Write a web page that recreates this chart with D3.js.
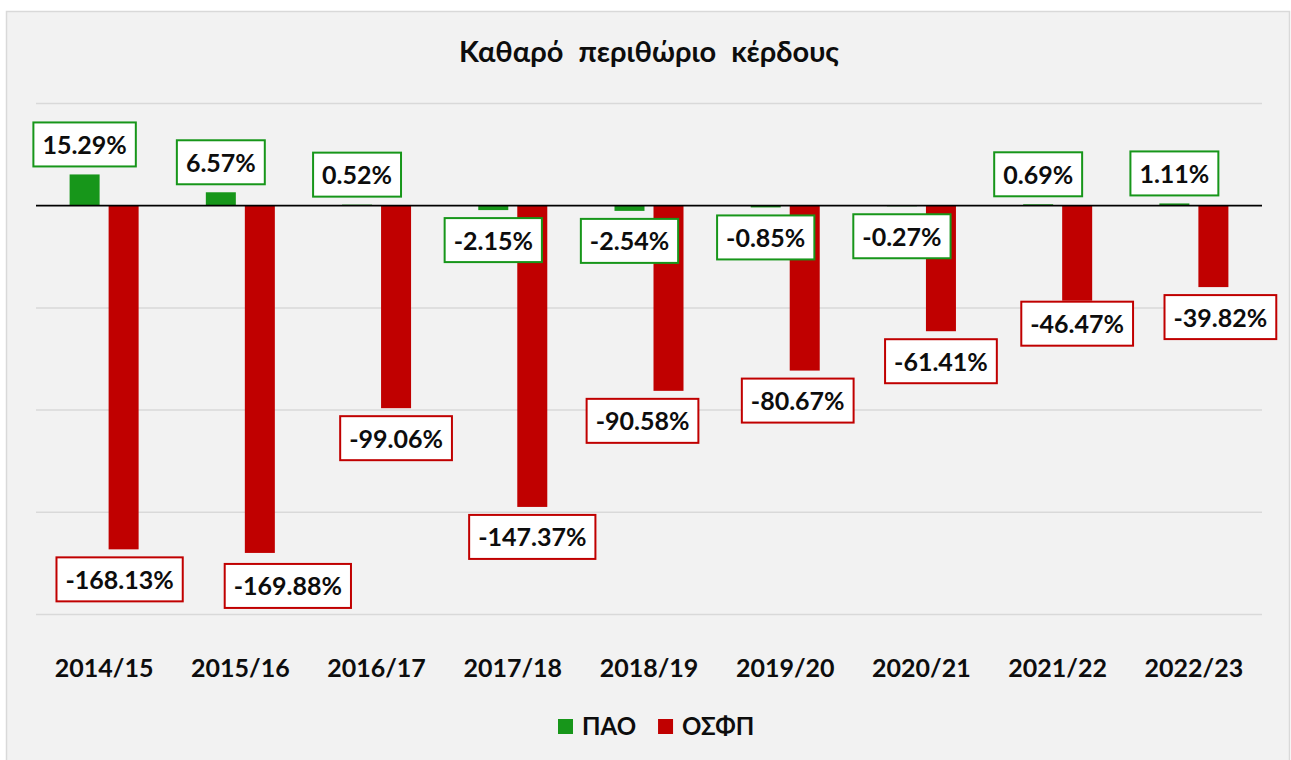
<!DOCTYPE html>
<html>
<head>
<meta charset="utf-8">
<script src="https://cdn.jsdelivr.net/npm/d3@7"></script>
<style>
  html, body { margin: 0; padding: 0; background: #ffffff; }
  svg { display: block; font-family: Lato, "Open Sans", sans-serif; }
</style>
</head>
<body>
<svg id="chart" width="1291" height="760"></svg>
<script>
// data
const seasons = ["2014/15", "2015/16", "2016/17", "2017/18", "2018/19", "2019/20", "2020/21", "2021/22", "2022/23"];
const seriesNames = ["ΠΑΟ", "ΟΣΦΠ"];
const paoValues = [15.29, 6.57, 0.52, -2.15, -2.54, -0.85, -0.27, 0.69, 1.11];
const osfpValues = [-168.13, -169.88, -99.06, -147.37, -90.58, -80.67, -61.41, -46.47, -39.82];
const yTicks = [50, 0, -50, -100, -150, -200];

// hand-moved labels in the original (pixels)
const osfpLabelDx = [-4, 28, 0, 0, -26, -7, 0, 0, 7];
const osfpLabelDy = [0, 3, 0, 0, 0, 0, 0, -7, 0];

const colors = { "ΠΑΟ": "#17961a", "ΟΣΦΠ": "#c00000" };

const svg = d3.select("#chart");

// chart area background
svg.append("rect")
  .attr("x", 6.5).attr("y", 11.5)
  .attr("width", 1283).attr("height", 770)
  .attr("fill", "#f2f2f2")
  .attr("stroke", "#d9d9d9")
  .attr("stroke-width", 1.5);

// title
svg.append("text")
  .attr("x", 649).attr("y", 62)
  .attr("text-anchor", "middle")
  .attr("font-size", 29)
  .attr("font-weight", "bold")
  .attr("word-spacing", 8)
  .attr("fill", "#0d0d0d")
  .text("Καθαρό περιθώριο κέρδους");

const x0 = d3.scaleBand()
  .domain(seasons)
  .range([36, 1262])
  .paddingInner(0.4934)
  .paddingOuter(0.2467);

const x1 = d3.scaleBand()
  .domain(seriesNames)
  .range([0, x0.bandwidth()])
  .paddingInner(0.2308);

const y = d3.scaleLinear()
  .domain([-200, 50])
  .range([614.5, 103.5]);

// gridlines
svg.append("g")
  .selectAll("line")
  .data(yTicks.filter(d => d !== 0))
  .join("line")
  .attr("x1", 36).attr("x2", 1262)
  .attr("y1", d => y(d)).attr("y2", d => y(d))
  .attr("stroke", "#d9d9d9")
  .attr("stroke-width", 1.5);

// bars
const rows = seasons.map((s, i) => ({
  season: s,
  values: [
    { name: "ΠΑΟ", value: paoValues[i], dx: 0, dy: 0 },
    { name: "ΟΣΦΠ", value: osfpValues[i], dx: osfpLabelDx[i], dy: osfpLabelDy[i] }
  ]
}));

const groups = svg.append("g")
  .selectAll("g")
  .data(rows)
  .join("g")
  .attr("transform", d => "translate(" + x0(d.season) + ",0)");

groups.selectAll("rect")
  .data(d => d.values)
  .join("rect")
  .attr("x", d => x1(d.name))
  .attr("y", d => y(Math.max(0, d.value)))
  .attr("width", x1.bandwidth())
  .attr("height", d => Math.abs(y(d.value) - y(0)))
  .attr("fill", d => colors[d.name]);

// zero line
svg.append("line")
  .attr("x1", 36).attr("x2", 1262)
  .attr("y1", y(0)).attr("y2", y(0))
  .attr("stroke", "#000")
  .attr("stroke-width", 1.8);

// data labels
const boxH = 44, gap = 8, pad = 9;
groups.each(function(row) {
  const g = d3.select(this);
  row.values.forEach(d => {
    const cx = x1(d.name) + x1.bandwidth() / 2 + d.dx;
    const top = d.value >= 0 ? y(d.value) - gap - boxH + d.dy : y(d.value) + gap + d.dy;
    const lab = g.append("g");
    const box = lab.append("rect");
    const txt = lab.append("text")
      .attr("x", cx)
      .attr("y", top + 31.5)
      .attr("text-anchor", "middle")
      .attr("font-size", 25)
      .attr("font-weight", "bold")
      .attr("fill", "#0d0d0d")
      .text(d.value.toFixed(2) + "%");
    const w = txt.node().getComputedTextLength() + pad * 2;
    box.attr("x", cx - w / 2)
      .attr("y", top)
      .attr("width", w)
      .attr("height", boxH)
      .attr("fill", "#ffffff")
      .attr("stroke", colors[d.name])
      .attr("stroke-width", 2);
  });
});

// x axis labels
svg.append("g")
  .selectAll("text")
  .data(seasons)
  .join("text")
  .attr("x", d => x0(d) + x0.bandwidth() / 2)
  .attr("y", 677)
  .attr("text-anchor", "middle")
  .attr("font-size", 25)
  .attr("font-weight", "bold")
  .attr("fill", "#0d0d0d")
  .text(d => d);

// legend
const legend = svg.append("g");
let lx = 558;
seriesNames.forEach(name => {
  legend.append("rect")
    .attr("x", lx).attr("y", 719)
    .attr("width", 15).attr("height", 15)
    .attr("fill", colors[name]);
  const t = legend.append("text")
    .attr("x", lx + 24).attr("y", 735)
    .attr("font-size", 24)
    .attr("font-weight", "bold")
    .attr("fill", "#0d0d0d")
    .text(name);
  lx += 24 + t.node().getComputedTextLength() + 22;
});
</script>
</body>
</html>
